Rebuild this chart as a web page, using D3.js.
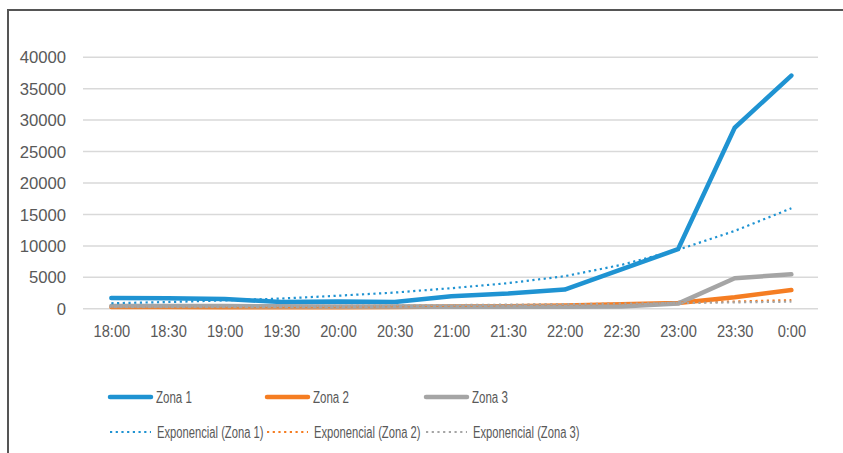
<!DOCTYPE html>
<html><head><meta charset="utf-8">
<script src="https://cdn.jsdelivr.net/npm/d3@7"></script>
<style>
html,body{margin:0;padding:0;background:#fff;}
svg{display:block;}
text{font-family:"Liberation Sans",Arial,sans-serif;fill:#595959;}
</style></head>
<body>
<script>
const categories = ["18:00","18:30","19:00","19:30","20:00","20:30","21:00","21:30","22:00","22:30","23:00","23:30","0:00"];
const zona1 = [1650,1600,1480,1000,1100,1000,1900,2340,2980,6200,9400,28700,37000];
const zona2 = [200,200,180,170,180,200,280,330,450,650,850,1750,2900];
const zona3 = [370,370,350,320,300,280,260,250,250,280,750,4780,5400];
const expZona1 = [800,1000,1250,1550,2000,2500,3200,4000,5100,6900,9300,12300,15900];
const expZona2 = [130,160,190,230,280,340,410,500,600,730,890,1080,1300];
const expZona3 = [250,280,320,360,400,450,510,580,650,740,830,940,1060];
const yTicks = [0,5000,10000,15000,20000,25000,30000,35000,40000];
const seriesNames = ["Zona 1","Zona 2","Zona 3"];
const trendNames = ["Exponencial (Zona 1)","Exponencial (Zona 2)","Exponencial (Zona 3)"];
const colors = ["#1f93d2","#f57d22","#a5a5a5"];

const W = 843, H = 453;
const svg = d3.select("body").append("svg").attr("width", W).attr("height", H);

function condense(sel, f){
  sel.each(function(){
    const w = this.getComputedTextLength();
    d3.select(this).attr("textLength", w*f).attr("lengthAdjust","spacingAndGlyphs");
  });
}

// frame
svg.append("path").attr("d", `M8,${H} L8,10 L${W},10`).attr("fill","none")
  .attr("stroke","#555").attr("stroke-width",2);

const x = d3.scalePoint().domain(categories).range([83, 819.7]).padding(0.5);
const y = d3.scaleLinear().domain([0,40000]).range([308.3, 56.7]);

// gridlines
const grid = svg.append("g").attr("transform","translate(83,0)")
  .call(d3.axisLeft(y).tickValues(yTicks).tickSize(-(818-83)).tickFormat(""));
grid.select(".domain").remove();
grid.selectAll("line").attr("stroke","#d9d9d9").attr("stroke-width",1.5);

// y labels
const yAx = svg.append("g").attr("transform","translate(66,0)")
  .call(d3.axisLeft(y).tickValues(yTicks).tickSize(0).tickPadding(0).tickFormat(d3.format("d")));
yAx.select(".domain").remove();
yAx.selectAll("text").attr("font-size",17).attr("fill","#595959").attr("dy","0.36em")
  .style("font-family","'Liberation Sans',sans-serif");
condense(yAx.selectAll("text"), 0.98);

// x labels
const xAx = svg.append("g").attr("transform","translate(0,308.3)")
  .call(d3.axisBottom(x).tickSize(0).tickPadding(23));
xAx.select(".domain").remove();
xAx.selectAll("text").attr("font-size",17).attr("fill","#595959").attr("dy","0.36em")
  .style("font-family","'Liberation Sans',sans-serif");
condense(xAx.selectAll("text"), 0.86);

const line = d3.line().x((d,i)=>x(categories[i])).y(d=>y(d));

[zona1, zona2, zona3].forEach((s,k)=>{
  svg.append("path").datum(s).attr("d", line).attr("fill","none")
    .attr("stroke", colors[k]).attr("stroke-width",4.5)
    .attr("stroke-linejoin","round").attr("stroke-linecap","round");
});
[expZona1, expZona2, expZona3].forEach((s,k)=>{
  svg.append("path").datum(s).attr("d", line).attr("fill","none")
    .attr("stroke", colors[k]).attr("stroke-width",2.2)
    .attr("stroke-dasharray","2.2,3.5");
});

// legend
const legX = [110, 267, 426];
seriesNames.forEach((n,k)=>{
  const g = svg.append("g");
  g.append("line").attr("x1",legX[k]).attr("x2",legX[k]+41).attr("y1",397).attr("y2",397)
    .attr("stroke",colors[k]).attr("stroke-width",4.5).attr("stroke-linecap","round");
  const t = g.append("text").attr("x",legX[k]+46).attr("y",397).attr("dy","0.36em")
    .attr("font-size",16).text(n);
  condense(t, 0.72);
});
trendNames.forEach((n,k)=>{
  const g = svg.append("g");
  g.append("line").attr("x1",legX[k]).attr("x2",legX[k]+41).attr("y1",432).attr("y2",432)
    .attr("stroke",colors[k]).attr("stroke-width",2.2).attr("stroke-dasharray","2.2,3.5");
  const t = g.append("text").attr("x",legX[k]+47).attr("y",432).attr("dy","0.36em")
    .attr("font-size",16).text(n);
  condense(t, 0.7);
});
</script>
</body></html>
